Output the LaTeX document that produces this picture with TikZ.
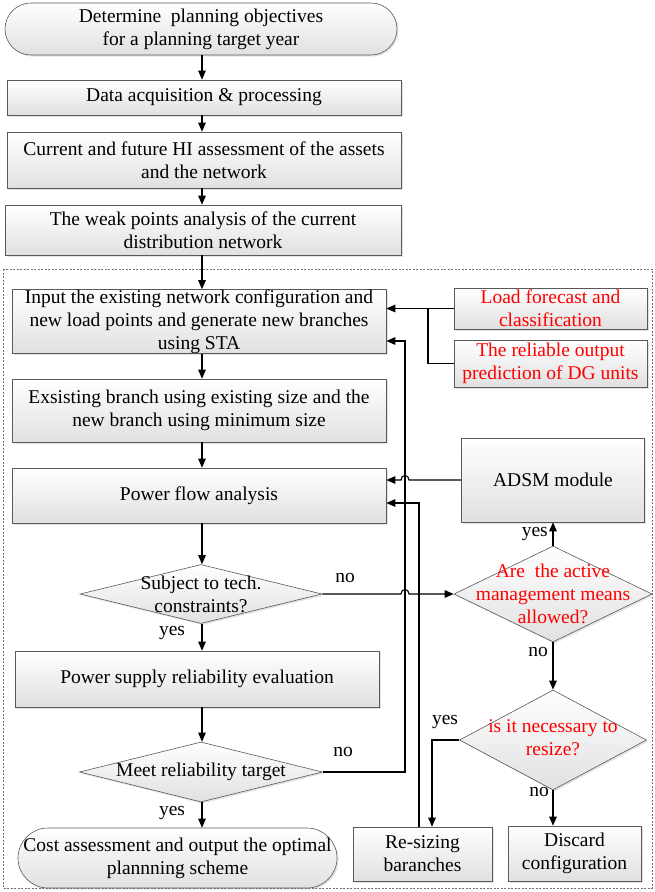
\documentclass[tikz,border=0pt]{standalone}
\usepackage{fontspec}
\setmainfont{Liberation Serif}
\usetikzlibrary{shapes.geometric,arrows.meta,shadows,calc}
\begin{document}
\begin{tikzpicture}[x=1pt,y=-1pt,
  every node/.style={font=\fontsize{19.5}{23}\selectfont},
  box/.style={draw=black!65, line width=0.6pt, top color=white, bottom color=black!12,
    drop shadow={opacity=0.22, shadow xshift=1.6pt, shadow yshift=-1.6pt},
    inner sep=0pt, align=center},
  term/.style={box, rounded corners=#1},
  dia/.style={box, shape=diamond, inner sep=0pt},
  note/.style={align=center, inner sep=0pt},
  lbl/.style={inner sep=0pt},
  arr/.style={-{Triangle[length=9pt,width=7.5pt]}, line width=1.1pt},
  ln/.style={line width=1.1pt},
  frame/.style={draw=black!55, line width=0.6pt, dash pattern=on 2pt off 1.5pt}]
\useasboundingbox (0,0) rectangle (655,892);

% helper coordinates for vertical runs
\coordinate (col) at (202,0);
\coordinate (vA) at (405,0);
\coordinate (retA) at (405,341);
\coordinate (retB) at (419,503);
\coordinate (vC) at (432,0);
\coordinate (jn) at (428,0);

% upper chain
\node[term=26pt, minimum width=392pt, minimum height=52pt] (start) at (201,29)
  {Determine\ \ planning objectives\\for a planning target year};
\node[box, minimum width=394pt, minimum height=35pt] (data) at (204,97.5)
  {Data acquisition \& processing};
\node[box, minimum width=394pt, minimum height=56pt] (hi) at (204,160)
  {Current and future HI assessment of the assets\\and the network};
\node[box, minimum width=396pt, minimum height=50pt] (weak) at (203,230)
  {The weak points analysis of the current\\distribution network};

% dashed planning loop frame
\draw[frame] (3,269) rectangle (652,888);

% main column inside the loop
\node[box, minimum width=374pt, minimum height=63pt] (input) at (199,321.5)
  {Input the existing network configuration and\\new load points and generate new branches\\using STA};
\node[box, minimum width=374pt, minimum height=63pt] (exist) at (199,410.5)
  {Exsisting branch using existing size and the\\new branch using minimum size};
\node[box, minimum width=374pt, minimum height=55pt] (power) at (199,495.5)
  {Power flow analysis};
\node[dia, minimum width=242pt, minimum height=59pt] (subj) at (201,594) {};
\node[note] (subjT) at (201,594) {Subject to tech.\\constraints?};
\node[box, minimum width=364pt, minimum height=56pt] (psr) at (197,679)
  {Power supply reliability evaluation};
\node[dia, minimum width=243pt, minimum height=60pt] (meet) at (201,772) {};
\node[note] (meetT) at (201,772) {Meet reliability target};
\node[term=30pt, minimum width=319pt, minimum height=60pt] (cost) at (177.5,858)
  {Cost assessment and output the optimal\\plannning scheme};

% inputs on the right
\node[box, text=red, minimum width=193pt, minimum height=41pt] (load) at (550.5,308.5)
  {Load forecast and\\classification};
\node[box, text=red, minimum width=193pt, minimum height=47pt] (dg) at (550.5,363.5)
  {The reliable output\\prediction of DG units};

% active management branch
\node[box, minimum width=183pt, minimum height=84pt] (adsm) at (553,480) {ADSM module};
\node[dia, minimum width=198pt, minimum height=96pt] (adsmd) at (553,594) {};
\node[note, text=red] (adsmdT) at (553,594) {Are\ \ the active\\management means\\allowed?};
\node[dia, minimum width=187pt, minimum height=100pt] (rsd) at (553,740) {};
\node[note, text=red] (rsdT) at (553,738) {is it necessary to\\resize?};
\node[box, minimum width=139pt, minimum height=54pt] (resize) at (422.5,854)
  {Re-sizing\\baranches};
\node[box, minimum width=133pt, minimum height=55pt] (discard) at (574.5,853.5)
  {Discard\\configuration};

% main column arrows
\draw[arr] (start.south -| col) -- (data.north -| col);
\draw[arr] (data.south -| col) -- (hi.north -| col);
\draw[arr] (hi.south -| col) -- (weak.north -| col);
\draw[arr] (weak.south -| col) -- (input.north -| col);
\draw[arr] (input.south -| col) -- (exist.north -| col);
\draw[arr] (exist.south -| col) -- (power.north -| col);
\draw[arr] (power.south -| col) -- (subj.north -| col);
\draw[arr] (subj.south -| col) -- (psr.north -| col);
\draw[arr] (psr.south -| col) -- (meet.north -| col);
\draw[arr] (meet.south -| col) -- (cost.north -| col);

% forecast inputs
\draw[arr] (load.west) -- (input.east |- load.west);
\draw[ln] (dg.west) -| (jn |- load.west);

% loop-back connectors
\draw[arr] (meet.east) -| (retA) -- (input.east |- retA);
\draw[arr] (resize.north -| retB) -- (retB) -- (power.east |- retB);

% ADSM feedback, jumping over the return line
\draw[arr] (adsm.west) -- ($(adsm.west -| vA)+(4,0)$)
  .. controls +(0,-6) and +(0,-6) .. ($(adsm.west -| vA)+(-4,0)$)
  -- (power.east |- adsm.west);

% constraint check to active management decision
\draw[arr] (subj.east) -- ($(subj.east -| vA)+(-4,0)$)
  .. controls +(0,-6) and +(0,-6) .. ($(subj.east -| vA)+(4,0)$)
  -- (adsmd.west);

\draw[arr] (adsmd.north) -- (adsm.south -| adsmd.north);
\draw[arr] (adsmd.south) -- (rsd.north);
\draw[arr] (rsd.west) -| (vC |- resize.north);
\draw[arr] (rsd.south) -- (rsd.south |- discard.north);

% branch labels
\node[lbl] (l1) at (345,578) {no};
\node[lbl] (l2) at (172,633) {yes};
\node[lbl] (l3) at (343,752) {no};
\node[lbl] (l4) at (172,813) {yes};
\node[lbl, anchor=east] (l5) at (548,534) {yes};
\node[lbl, anchor=east] (l6) at (548,652) {no};
\node[lbl] (l7) at (445,722) {yes};
\node[lbl, anchor=east] (l8) at (549,792) {no};
\end{tikzpicture}
\end{document}
